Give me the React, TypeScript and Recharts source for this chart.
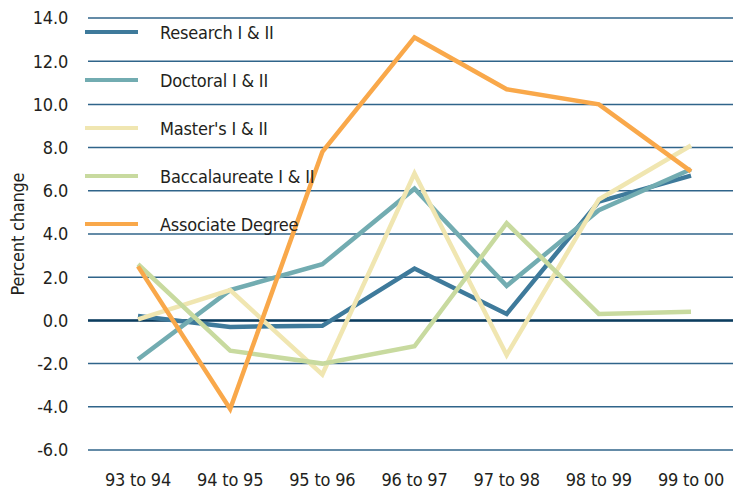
import React from 'react';
import { LineChart, Line, XAxis, YAxis, CartesianGrid, Legend, ReferenceLine } from 'recharts';

const periods = ['93 to 94', '94 to 95', '95 to 96', '96 to 97', '97 to 98', '98 to 99', '99 to 00'];

const research = [0.2, -0.3, -0.25, 2.4, 0.3, 5.5, 6.7];
const doctoral = [-1.8, 1.4, 2.6, 6.1, 1.6, 5.1, 7.0];
const masters = [0.05, 1.4, -2.5, 6.8, -1.6, 5.6, 8.1];
const baccalaureate = [2.6, -1.4, -2.0, -1.2, 4.5, 0.3, 0.4];
const associate = [2.5, -4.1, 7.8, 13.1, 10.7, 10.0, 6.9];

const yTicks = [-6, -4, -2, 0, 2, 4, 6, 8, 10, 12, 14];

const SERIES = [
  { key: 'research', name: 'Research I & II', color: '#3e7a9b', values: research },
  { key: 'doctoral', name: 'Doctoral I & II', color: '#72acb1', values: doctoral },
  { key: 'masters', name: "Master's I & II", color: '#f0e6b1', values: masters },
  { key: 'baccalaureate', name: 'Baccalaureate I & II', color: '#c8da9f', values: baccalaureate },
  { key: 'associate', name: 'Associate Degree', color: '#f9a84a', values: associate },
];

const data = periods.map((p, i) => {
  const row: { [k: string]: string | number } = { name: p };
  SERIES.forEach((s) => {
    row[s.key] = s.values[i];
  });
  return row;
});

const FONT = '"Liberation Sans Narrow", "Arial Narrow", "DejaVu Sans Condensed", sans-serif';
const TEXT = { fontFamily: FONT, fontSize: 18, fill: '#231f20', letterSpacing: -0.2 };

const LegendBox = () => (
  <div style={{ fontFamily: FONT, fontSize: 18, letterSpacing: -0.2, color: '#231f20' }}>
    {SERIES.map((s) => (
      <div key={s.key} style={{ display: 'flex', alignItems: 'center', height: 48 }}>
        <div style={{ width: 53, height: 4, background: s.color, marginRight: 22 }} />
        <span>{s.name}</span>
      </div>
    ))}
  </div>
);

const App: React.FC = () => {
  return (
    <div style={{ position: 'absolute', left: 0, top: 0, background: '#fff' }}>
      <LineChart width={733} height={493} data={data} margin={{ top: 18, right: 0, bottom: 13, left: 0 }}>
        <CartesianGrid vertical={false} stroke="#30648a" strokeWidth={1.5} />
        <XAxis
          dataKey="name"
          scale="point"
          padding={{ left: 50, right: 42 }}
          axisLine={false}
          tickLine={false}
          tickSize={0}
          tickMargin={23}
          height={30}
          interval={0}
          tick={TEXT}
        />
        <YAxis
          domain={[-6, 14]}
          ticks={yTicks}
          width={88}
          axisLine={false}
          tickLine={false}
          tickSize={0}
          tickMargin={20}
          tickFormatter={(v: number) => v.toFixed(1)}
          tick={TEXT}
          label={{
            value: 'Percent change',
            angle: -90,
            position: 'insideLeft',
            offset: 18,
            style: { ...TEXT, textAnchor: 'middle' },
          }}
        />
        <ReferenceLine y={0} stroke="#0c3d5e" strokeWidth={2.5} />
        <Legend
          layout="vertical"
          align="center"
          verticalAlign="middle"
          wrapperStyle={{ left: 85, top: 8, width: 260 }}
          content={() => <LegendBox />}
        />
        {SERIES.map((s) => (
          <Line
            key={s.key}
            type="linear"
            dataKey={s.key}
            name={s.name}
            stroke={s.color}
            strokeWidth={4.5}
            dot={false}
            activeDot={false}
            isAnimationActive={false}
          />
        ))}
      </LineChart>
    </div>
  );
};

export default App;
